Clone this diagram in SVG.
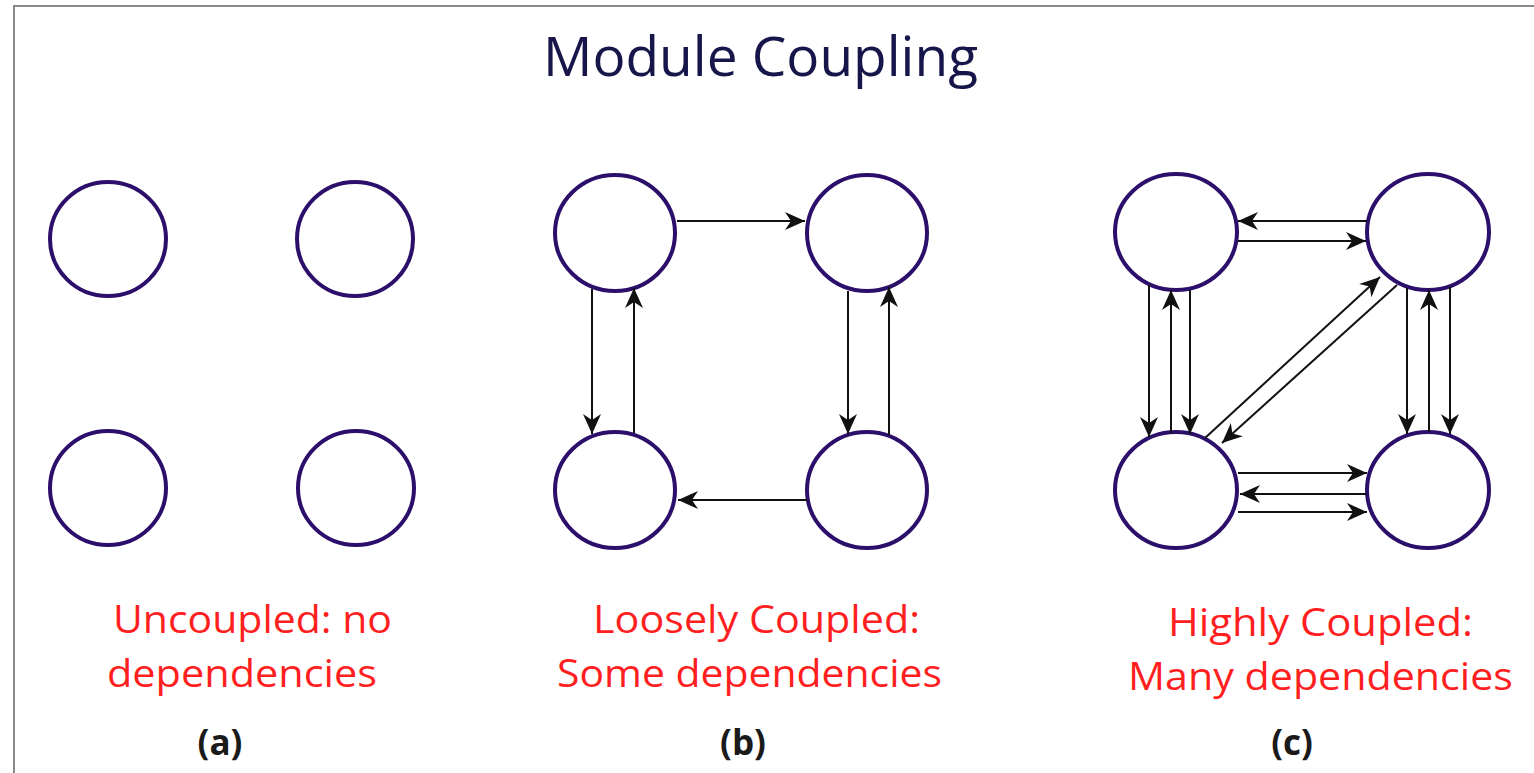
<svg xmlns="http://www.w3.org/2000/svg" width="1534" height="773" viewBox="0 0 1534 773">
<style>
.node{fill:#fff;stroke:#2b0f6b;stroke-width:4}
.edge{stroke:#111;stroke-width:2;fill:none;marker-end:url(#arr)}
.title{font-family:"Open Sans","Noto Sans",sans-serif;font-size:55px;fill:#16164a}
.lab{font-family:"Open Sans","Noto Sans",sans-serif;font-size:38px;fill:#ff1f1f}
.tag{font-family:"Open Sans","Noto Sans",sans-serif;font-size:35px;font-weight:bold;fill:#1a1a1a;text-anchor:middle}
</style>
<defs>
<marker id="arr" viewBox="-21 -11 22 22" refX="0" refY="0" markerWidth="22" markerHeight="22" markerUnits="userSpaceOnUse" orient="auto">
<path d="M0,0 L-20,-9 L-14,0 L-20,9 Z" fill="#111"/>
</marker>
</defs>
<rect width="1534" height="773" fill="#fff"/>
<path d="M14,773 V6 H1534" fill="none" stroke="#888" stroke-width="2"/>
<text class="title" x="543" y="76" textLength="435" lengthAdjust="spacingAndGlyphs">Module Coupling</text>

<g id="a-tl"><ellipse class="node" cx="108" cy="239" rx="58" ry="57"/></g>
<g id="a-tr"><ellipse class="node" cx="355" cy="239" rx="58" ry="57"/></g>
<g id="a-bl"><ellipse class="node" cx="108" cy="488" rx="58" ry="57"/></g>
<g id="a-br"><ellipse class="node" cx="356" cy="488" rx="58" ry="57"/></g>

<g id="b-tl"><ellipse class="node" cx="615" cy="233" rx="60" ry="58"/></g>
<g id="b-tr"><ellipse class="node" cx="867" cy="233" rx="60" ry="58"/></g>
<g id="b-bl"><ellipse class="node" cx="615" cy="490" rx="60" ry="58"/></g>
<g id="b-br"><ellipse class="node" cx="867" cy="490" rx="60" ry="58"/></g>

<g id="c-tl"><ellipse class="node" cx="1176" cy="232" rx="61" ry="58"/></g>
<g id="c-tr"><ellipse class="node" cx="1428" cy="232" rx="61" ry="58"/></g>
<g id="c-bl"><ellipse class="node" cx="1176" cy="490" rx="61" ry="58"/></g>
<g id="c-br"><ellipse class="node" cx="1428" cy="490" rx="61" ry="58"/></g>

<g id="connectors">
<path class="edge" d="M677,221 L805,221"/>
<path class="edge" d="M592,289 L592,434"/>
<path class="edge" d="M634,433 L634,288"/>
<path class="edge" d="M848,291 L848,434"/>
<path class="edge" d="M889,435 L889,287"/>
<path class="edge" d="M807,500 L678,500"/>

<path class="edge" d="M1367,221 L1238,221"/>
<path class="edge" d="M1238,241 L1366,241"/>
<path class="edge" d="M1149,285 L1149,437"/>
<path class="edge" d="M1171,433 L1171,290"/>
<path class="edge" d="M1190,290 L1190,434"/>
<path class="edge" d="M1407,288 L1407,434"/>
<path class="edge" d="M1429,432 L1429,290"/>
<path class="edge" d="M1450,287 L1450,434"/>
<path class="edge" d="M1205,438 L1380,277"/>
<path class="edge" d="M1397,285 L1222,443"/>
<path class="edge" d="M1238,473 L1367,473"/>
<path class="edge" d="M1367,494 L1240,494"/>
<path class="edge" d="M1238,512 L1367,512"/>
</g>

<text class="lab" x="113" y="633" textLength="279" lengthAdjust="spacingAndGlyphs">Uncoupled: no</text>
<text class="lab" x="107" y="687" textLength="270" lengthAdjust="spacingAndGlyphs">dependencies</text>
<text class="lab" x="593" y="633" textLength="327" lengthAdjust="spacingAndGlyphs">Loosely Coupled:</text>
<text class="lab" x="557" y="687" textLength="385" lengthAdjust="spacingAndGlyphs">Some dependencies</text>
<text class="lab" x="1168" y="636" textLength="305" lengthAdjust="spacingAndGlyphs">Highly Coupled:</text>
<text class="lab" x="1128" y="690" textLength="385" lengthAdjust="spacingAndGlyphs">Many dependencies</text>

<text class="tag" x="220" y="755">(a)</text>
<text class="tag" x="743" y="755">(b)</text>
<text class="tag" x="1292" y="755">(c)</text>
</svg>
